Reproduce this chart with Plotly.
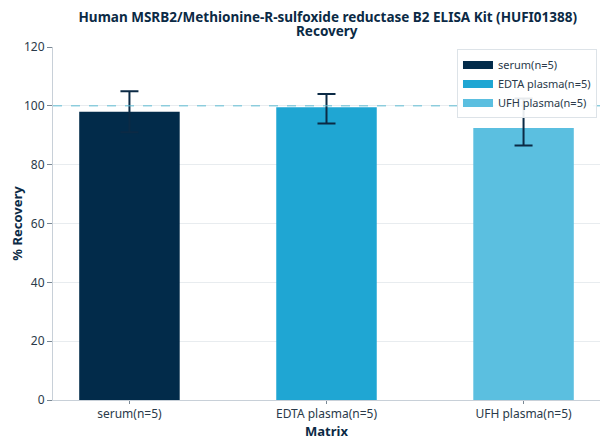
import plotly.graph_objects as go

categories = ["serum(n=5)", "EDTA plasma(n=5)", "UFH plasma(n=5)"]
recovery = [98, 99.5, 92.5]
err_plus = [7, 4.5, 10]
err_minus = [7, 5.5, 6]
colors = ["#022b4a", "#1fa6d3", "#5bbfe0"]

fig = go.Figure()
for c, v, ep, em, col in zip(categories, recovery, err_plus, err_minus, colors):
    fig.add_trace(go.Bar(
        x=[c], y=[v], name=c, marker_color=col, width=0.51,
        marker_line_width=0, showlegend=False, legendgroup=c,
        error_y=dict(type="data", array=[ep], arrayminus=[em], symmetric=False,
                     color="#0b2a45", thickness=2, width=9),
    ))
# legend entries drawn as wide rectangles (legend-only line traces)
for c, col in zip(categories, colors):
    fig.add_trace(go.Scatter(
        x=[None], y=[None], mode="lines", name=c, legendgroup=c,
        line=dict(color=col, width=8),
    ))

fig.add_hline(y=100, line=dict(color="#5fbcd3", width=1, dash="dash"))

fig.add_annotation(
    text="<b>Recovery</b>", xref="paper", yref="paper",
    x=0.5, y=(392 - 23.5) / 353, xanchor="center", yanchor="middle",
    showarrow=False, font=dict(size=13.5, color="#0b2a45"),
)

fig.update_layout(
    width=600, height=436,
    margin=dict(l=45, r=8, t=39, b=44, autoexpand=False),
    barmode="overlay",
    plot_bgcolor="white", paper_bgcolor="white",
    font=dict(family="Noto Sans", size=12, color="#2a3a4a"),
    title=dict(
        text="<b>Human MSRB2/Methionine-R-sulfoxide reductase B2 ELISA Kit (HUFI01388)</b>",
        x=0.533, xanchor="center", y=(436 - 9) / 436, yanchor="middle",
        font=dict(size=13.5, color="#0b2a45"),
    ),
    legend=dict(
        x=0.9945, y=0.993, xanchor="right", yanchor="top",
        bgcolor="rgba(255,255,255,0.9)", bordercolor="#dde3e8", borderwidth=1,
        font=dict(size=11, color="#2a3a4a"),
        tracegroupgap=0, itemwidth=30,
    ),
    xaxis=dict(
        range=[-0.388, 2.388], automargin=False,
        title=dict(text="<b>Matrix</b>", font=dict(size=13, color="#0b2a45"), standoff=0),
        showline=True, linecolor="#c8d0d8", linewidth=1,
        ticks="outside", ticklen=3, tickcolor="#7a8894",
        showgrid=False,
    ),
    yaxis=dict(
        range=[0, 120], dtick=20, automargin=False,
        title=dict(text="<b>% Recovery</b>", font=dict(size=13, color="#0b2a45"), standoff=11),
        showline=True, linecolor="#c8d0d8", linewidth=1,
        ticks="outside", ticklen=5, tickcolor="#7a8894",
        showgrid=True, gridcolor="#e8ecef", gridwidth=1,
        zeroline=False,
    ),
)

fig.write_html("out.html")
